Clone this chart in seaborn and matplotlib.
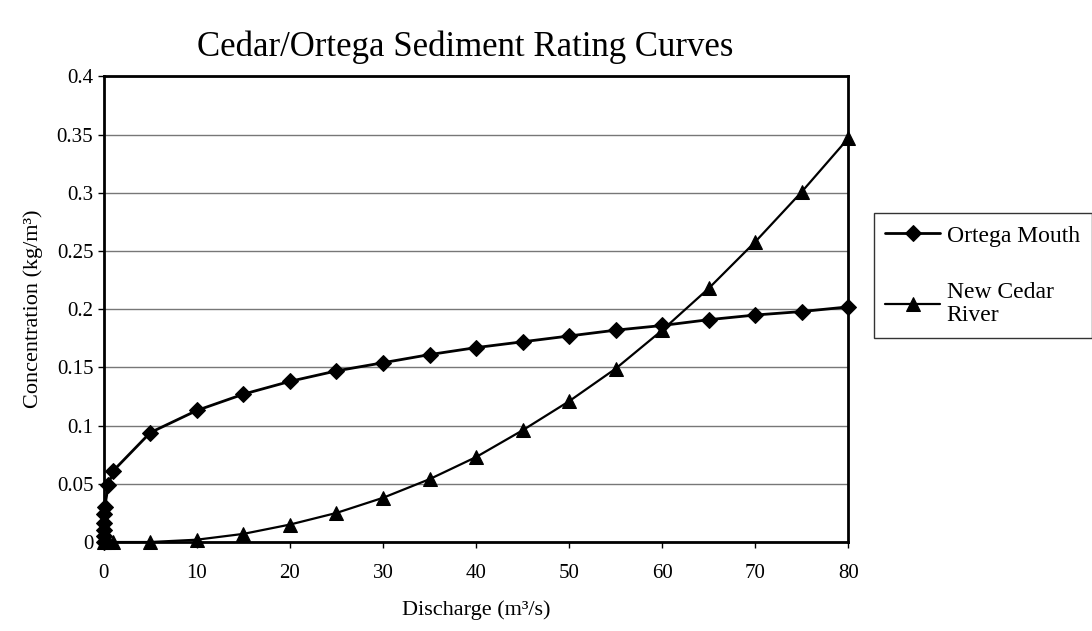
import pandas as pd
import matplotlib
matplotlib.use("Agg")
import matplotlib.pyplot as plt
import seaborn as sns

# Values
ortega_q = [0, 0.001, 0.005, 0.01, 0.05, 0.1, 0.5, 1, 5, 10, 15, 20, 25, 30, 35,
            40, 45, 50, 55, 60, 65, 70, 75, 80]
ortega_c = [0, 0.005, 0.010, 0.016, 0.024, 0.030, 0.049, 0.061, 0.094, 0.113,
            0.127, 0.138, 0.147, 0.154, 0.161, 0.167, 0.172, 0.177, 0.182,
            0.186, 0.191, 0.195, 0.198, 0.202]

cedar_q = [0, 0.5, 1, 5, 10, 15, 20, 25, 30, 35, 40, 45, 50, 55, 60, 65, 70, 75, 80]
cedar_c = [0, 0, 0, 0, 0.002, 0.007, 0.015, 0.025, 0.038, 0.054, 0.073, 0.096,
           0.121, 0.149, 0.182, 0.218, 0.258, 0.301, 0.347]

x_ticks = [0, 10, 20, 30, 40, 50, 60, 70, 80]
y_ticks = [0, 0.05, 0.1, 0.15, 0.2, 0.25, 0.3, 0.35, 0.4]

ortega = pd.DataFrame({"Discharge": ortega_q, "Concentration": ortega_c})
cedar = pd.DataFrame({"Discharge": cedar_q, "Concentration": cedar_c})

sns.set_style("white")
plt.rcParams["font.family"] = ["Liberation Serif", "DejaVu Serif"]
plt.rcParams["text.color"] = "black"
plt.rcParams["axes.labelcolor"] = "black"
plt.rcParams["xtick.color"] = "black"
plt.rcParams["ytick.color"] = "black"

fig = plt.figure(figsize=(10.92, 6.31), dpi=100)
ax = fig.add_axes([0.095, 0.141, 0.682, 0.738])

sns.lineplot(data=ortega, x="Discharge", y="Concentration", ax=ax, color="black",
             marker="D", markersize=8, markeredgecolor="black", linewidth=2,
             estimator=None, sort=False, label="Ortega Mouth", legend=False,
             clip_on=False, zorder=3)
sns.lineplot(data=cedar, x="Discharge", y="Concentration", ax=ax, color="black",
             marker="^", markersize=10, markeredgecolor="black", linewidth=1.6,
             estimator=None, sort=False, label="New Cedar\nRiver", legend=False,
             clip_on=False, zorder=3)

ax.set_xlim(0, 80)
ax.set_ylim(0, 0.4)
ax.set_xticks(x_ticks)
ax.set_yticks(y_ticks)
ax.set_xticklabels([f"{v:g}" for v in x_ticks])
ax.set_yticklabels([f"{v:g}" for v in y_ticks])
ax.tick_params(axis="both", labelsize=15, direction="out", length=4,
               width=1, bottom=True, left=True)
ax.tick_params(axis="x", pad=12)
ax.yaxis.grid(True, color="#777777", linewidth=1)
ax.xaxis.grid(False)
for side in ax.spines.values():
    side.set_color("black")
    side.set_linewidth(2)

ax.set_xlabel("Discharge (m³/s)", fontsize=16, labelpad=12)
ax.set_ylabel("Concentration (kg/m³)", fontsize=16, labelpad=10)

fig.text(0.426, 0.925, "Cedar/Ortega Sediment Rating Curves", fontsize=25,
         ha="center", va="center")

handles, labels = ax.get_legend_handles_labels()
leg = fig.legend(handles, labels, loc="upper left", bbox_to_anchor=(0.800, 0.662),
                 fontsize=17, frameon=True, fancybox=False, handlelength=2.3,
                 labelspacing=1.5, borderpad=0.5, borderaxespad=0,
                 handletextpad=0.3)
leg.get_frame().set_edgecolor("black")
leg.get_frame().set_linewidth(1)
for t in leg.get_texts():
    t.set_linespacing(1.15)

fig.savefig("out.png", dpi=100)
